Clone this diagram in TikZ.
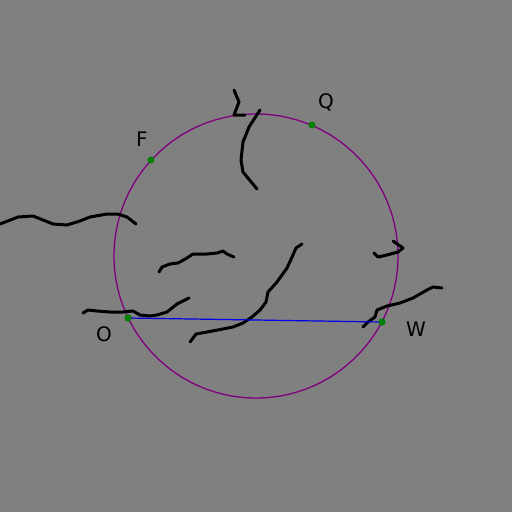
\documentclass[tikz,border=0pt]{standalone}
\usepackage{fontspec}
\setmainfont{DejaVu Sans}
\definecolor{bg}{RGB}{128,128,128}
\definecolor{ptgreen}{RGB}{0,128,0}
\definecolor{circ}{RGB}{128,0,128}
\definecolor{seg}{RGB}{0,0,230}
\begin{document}
\begin{tikzpicture}[x=1pt,y=-1pt,
  dot/.style={circle,fill=ptgreen,draw=none,minimum size=7pt,inner sep=0pt},
  lab/.style={font=\fontsize{20}{24}\selectfont,text=black,inner sep=0pt},
  scrib/.style={draw=black,line width=3pt,line cap=round,line join=round}]
\fill[bg] (0,0) rectangle (512,512);
\useasboundingbox (0,0) rectangle (512,512);
% circle
\coordinate (C) at (256,256);
\draw[circ,line width=1.3pt] (C) circle[radius=142];
% scribbles
\draw[scrib] (234,90) -- (239,102) -- (234,115) -- (245,115);
\draw[scrib] (260,110) -- (249,127) -- (243,142) -- (241,160) -- (243,172) -- (257,189);
\draw[scrib] (0,224) -- (18,217) -- (33,216) -- (53,224) -- (67,225) -- (80,221) -- (90,217) -- (107,214) -- (118,214) -- (127,217) -- (136,224);
\draw[scrib] (159,272) -- (162,267) -- (170,264) -- (178,263) -- (187,258) -- (193,254) -- (207,254) -- (217,253) -- (223,251) -- (227,254) -- (234,257);
\draw[scrib] (83,313) -- (88,310) -- (97,311) -- (110,312) -- (123,312) -- (133,311) -- (140,315) -- (150,316) -- (157,315) -- (167,312) -- (177,304) -- (189,298);
\draw[scrib] (190,342) -- (196,334) -- (207,332) -- (223,329) -- (233,327) -- (243,323) -- (252,317) -- (260,310) -- (266,302) -- (268,292) -- (277,282) -- (287,268) -- (293,255) -- (296,248) -- (302,244);
\draw[scrib] (393,241) -- (403,248) -- (398,252) -- (387,255) -- (378,257) -- (374,253);
\draw[scrib] (363,327) -- (368,322) -- (375,317) -- (377,310) -- (387,306) -- (400,303) -- (413,298) -- (427,290) -- (433,287) -- (442,288);
% points
\node[dot] (F) at (151,160) {};
\node[dot] (Q) at (312,125) {};
\node[dot] (O) at (128,318) {};
\node[dot] (W) at (382,322) {};
\draw[seg,line width=1.2pt] (O.center) -- (W.center);
\node[dot] at (O.center) {};
\node[dot] at (W.center) {};
% labels
\node[lab] (Fl) at (142,139) {F};
\node[lab] (Ql) at (326,102) {Q};
\node[lab] (Ol) at (104,334) {O};
\node[lab] (Wl) at (416,329) {W};
\end{tikzpicture}
\end{document}
